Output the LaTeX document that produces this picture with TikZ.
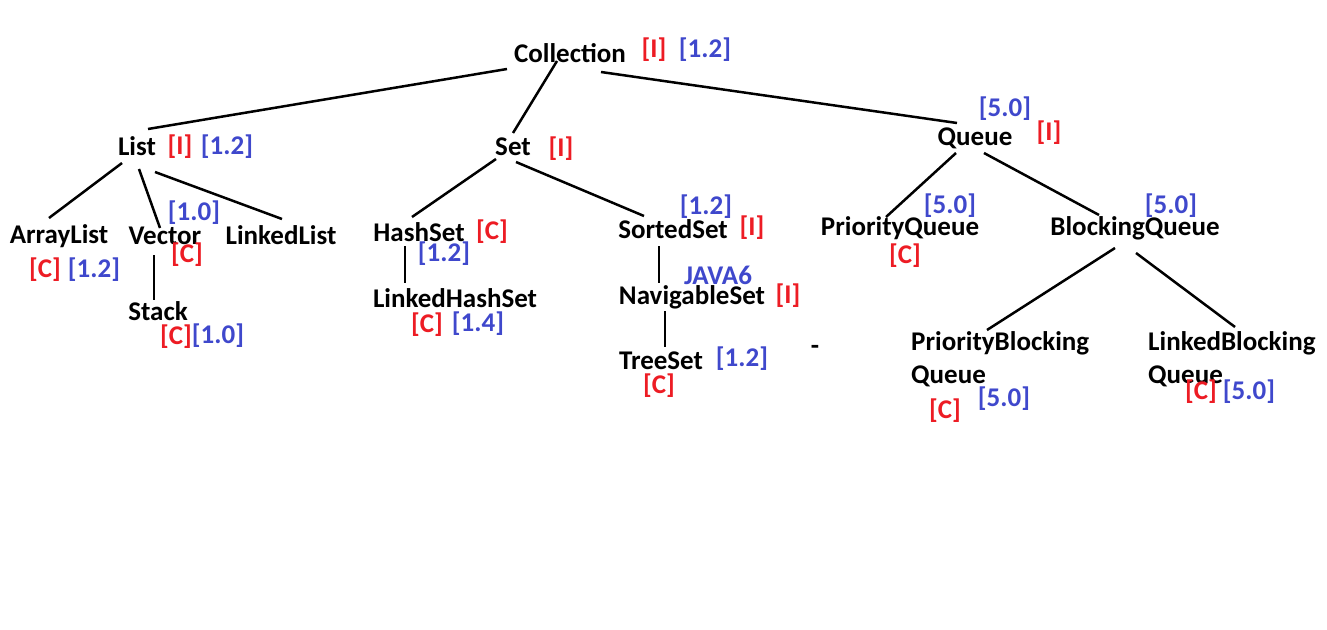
\documentclass[tikz,border=0pt]{standalone}
\usepackage{fontspec}
\setmainfont{Carlito}
\usetikzlibrary{calc}
\definecolor{paintred}{RGB}{237,28,36}
\definecolor{paintblue}{RGB}{63,72,204}
\tikzset{
  cls/.style={font=\bfseries\fontsize{27}{33}\selectfont, inner sep=0pt, anchor=base},
  itag/.style={font=\bfseries\fontsize{27}{33}\selectfont, inner sep=0pt, text=paintred},
  vtag/.style={font=\bfseries\fontsize{27}{33}\selectfont, inner sep=0pt, text=paintblue},
  edge/.style={line width=2.5pt}
}

\begin{document}
\begin{tikzpicture}[x=1pt,y=-1pt]

    % Canvas
    \useasboundingbox[fill=white] (0,0) rectangle (1327,629);

    % Class and interface names
    \node[cls] (collection) at (570,62) {Collection};
    \node[cls] (list) at (137,155) {List};
    \node[cls] (set) at (513,155) {Set};
    \node[cls] (queue) at (975,145) {Queue};
    \node[cls] (arraylist) at (59,243) {ArrayList};
    \node[cls] (vector) at (165,244) {Vector};
    \node[cls] (linkedlist) at (281,244) {LinkedList};
    \node[cls] (stack) at (158,320) {Stack};
    \node[cls] (hashset) at (419,241) {HashSet};
    \node[cls] (linkedhashset) at (455,307) {LinkedHashSet};
    \node[cls] (sortedset) at (673,238) {SortedSet};
    \node[cls] (navigableset) at (692,304) {NavigableSet};
    \node[cls] (treeset) at (661,369) {TreeSet};
    \node[cls] (priorityqueue) at (900,235) {PriorityQueue};
    \node[cls] (blockingqueue) at (1135,235) {BlockingQueue};
    % base of a two-line node is the second line
    \node[cls, anchor=base west, align=left] (pbq) at (911,383) {PriorityBlocking\\Queue};
    \node[cls, anchor=base west, align=left] (lbq) at (1148,383) {LinkedBlocking\\Queue};
    \node[cls] (dash) at (815,354) {-};

    % Kind tags (red)
    \foreach \nm/\x/\y/\t in {collI/654/50/[I], listI/180/147/[I], arrC/45/270/[C],
        vecC/187/255/[C], stackC/176/337/[C], setI/561/149/[I], hashC/492/232/[C],
        lhashC/427/325/[C], sortI/752/228/[I], navI/788/296/[I], treeC/659/386/[C],
        queueI/1049/133/[I], pqC/905/256/[C], pbqC/945/411/[C], lbqC/1201/392/[C]}
        \node[itag] (\nm) at (\x,\y) {\t};

    % Version tags (blue)
    \foreach \nm/\x/\y/\t in {collV/705/50/[1.2], listV/227/147/[1.2], arrV/94/270/[1.2],
        vecV/194/213/[1.0], stackV/218/336/[1.0], hashV/444/254/[1.2],
        lhashV/478/324/[1.4], sortV/706/207/[1.2], treeV/742/359/[1.2],
        queueV/1005/109/[5.0], pqV/950/206/[5.0], bqV/1171/206/[5.0],
        pbqV/1004/399/[5.0], lbqV/1249/392/[5.0]}
        \node[vtag] (\nm) at (\x,\y) {\t};
    \node[vtag] (java) at (718,275) {JAVA6};

    % Hierarchy lines
    \draw[edge] ($(collection.base)+(-63,7)$) -- ($(list.base)+(11,-26)$);
    \draw[edge] ($(collection.base)+(-13,-1)$) -- ($(set.base)+(0,-22)$);
    \draw[edge] ($(collection.base)+(31,10)$) -- ($(queue.base)+(-18,-22)$);

    \draw[edge] ($(list.base)+(-15,8)$) -- ($(arraylist.base)+(-10,-25)$);
    \draw[edge] ($(list.base)+(2,14)$) -- ($(vector.base)+(-5,-16)$);
    \draw[edge] ($(list.base)+(18,17)$) -- ($(linkedlist.base)+(1,-25)$);
    \draw[edge] ($(vector.base)+(-11,11)$) -- ($(stack.base)+(-4,-20)$);

    \draw[edge] ($(set.base)+(-17,4)$) -- ($(hashset.base)+(-7,-24)$);
    \draw[edge] ($(set.base)+(3,7)$) -- ($(sortedset.base)+(-29,-22)$);
    \draw[edge] ($(hashset.base)+(-14,5)$) -- ($(linkedhashset.base)+(-50,-24)$);
    \draw[edge] ($(sortedset.base)+(-14,8)$) -- ($(navigableset.base)+(-33,-21)$);
    \draw[edge] ($(navigableset.base)+(-27,7)$) -- ($(treeset.base)+(4,-22)$);

    \draw[edge] ($(queue.base)+(-19,8)$) -- ($(priorityqueue.base)+(-14,-18)$);
    \draw[edge] ($(queue.base)+(9,8)$) -- ($(blockingqueue.base)+(-36,-20)$);
    \draw[edge] ($(blockingqueue.base)+(-20,13)$) -- ($(pbq.base west)+(76,-53)$);
    \draw[edge] ($(blockingqueue.base)+(1,18)$) -- ($(lbq.base west)+(87,-56)$);

\end{tikzpicture}
\end{document}
